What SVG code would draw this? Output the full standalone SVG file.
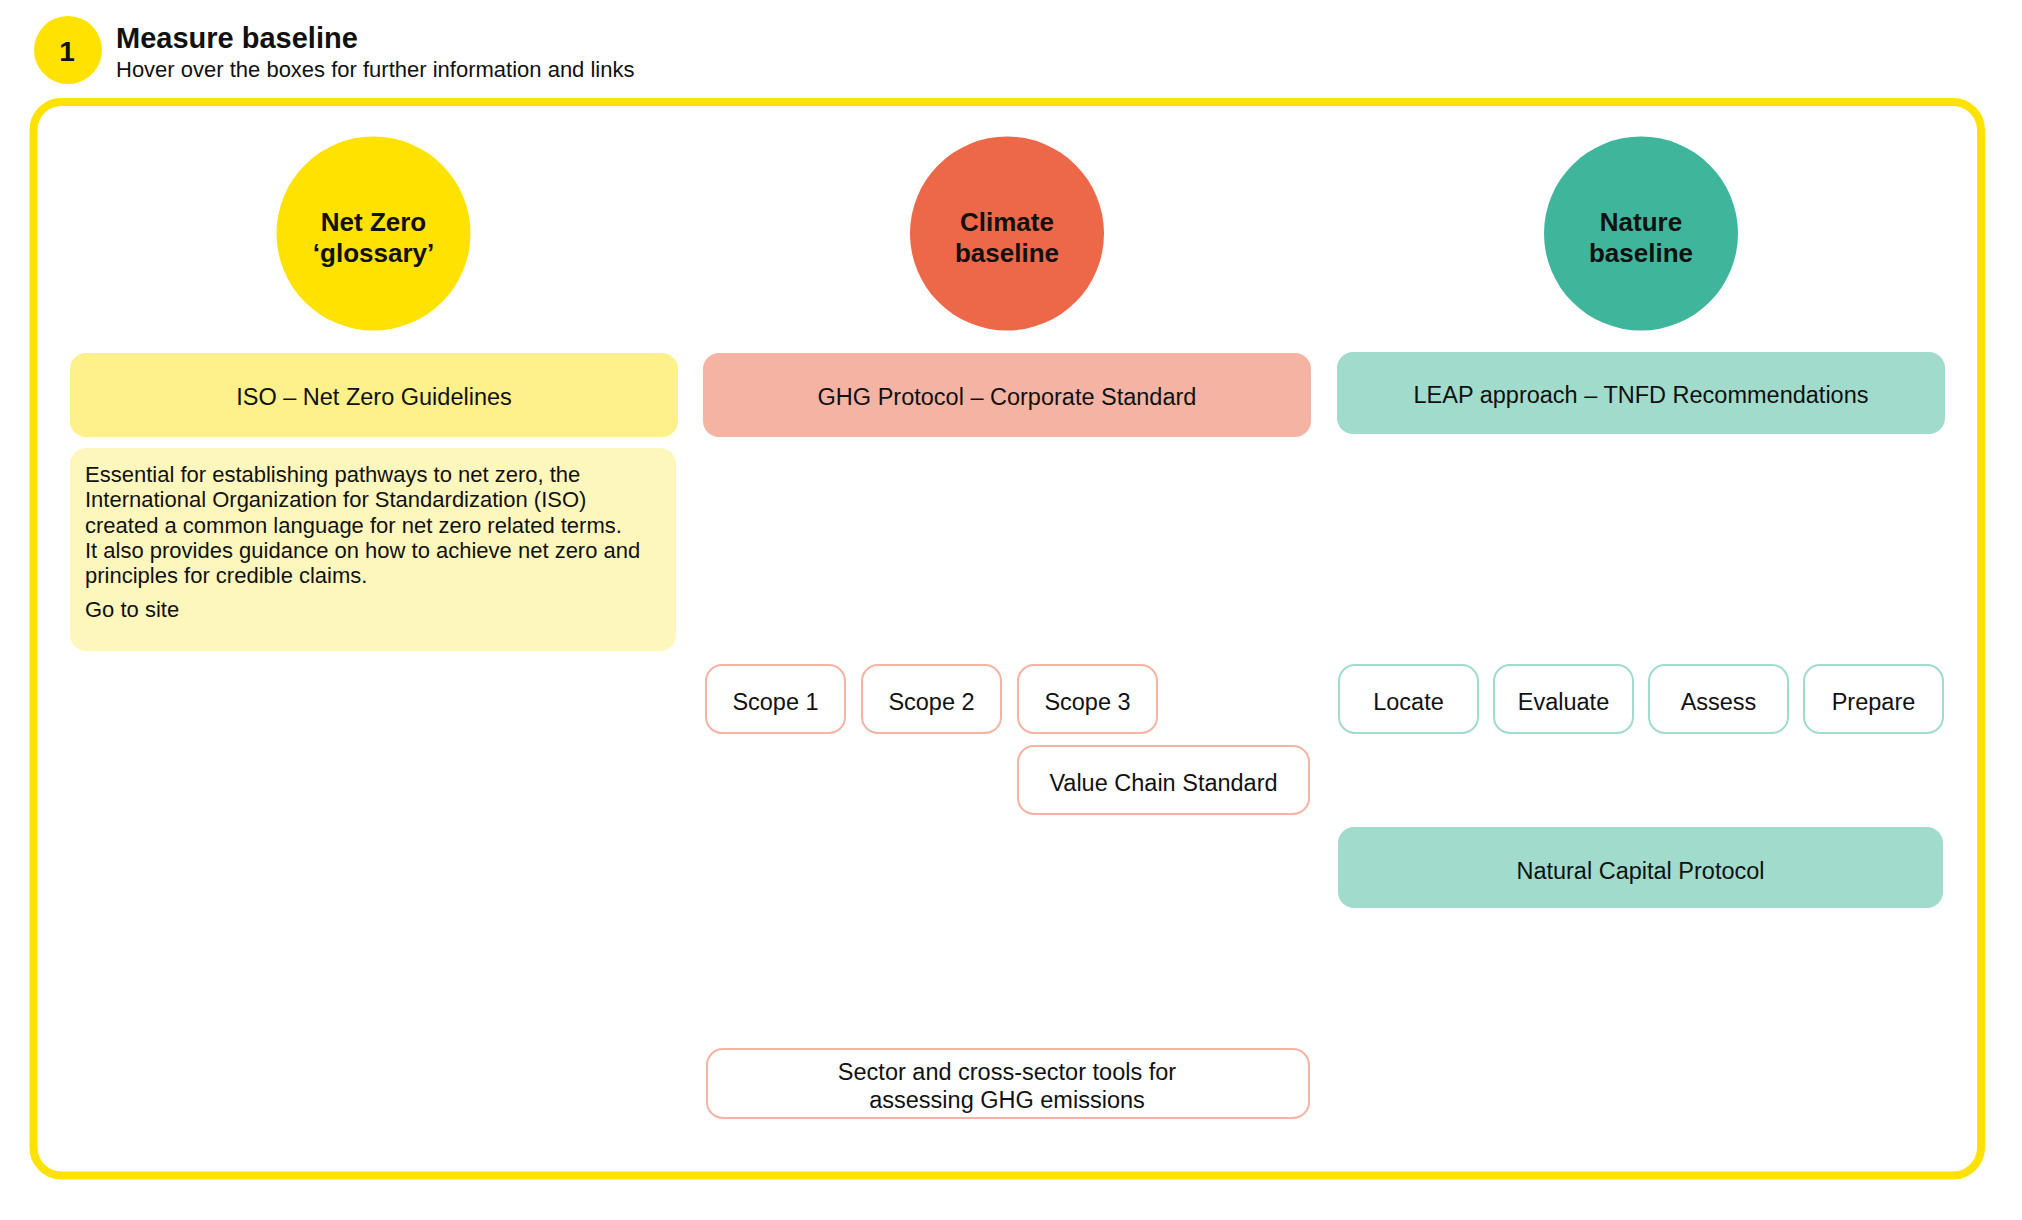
<svg xmlns="http://www.w3.org/2000/svg" width="2022" height="1220" viewBox="0 0 2022 1220">
<style>
text{font-family:"Liberation Sans",Arial,sans-serif;fill:#111111}
.title{font-size:29px;font-weight:bold}
.num{font-size:28px;font-weight:bold;text-anchor:middle}
.sub{font-size:22px}
.circ{font-size:26px;font-weight:bold;text-anchor:middle}
.lbl{font-size:23.5px;text-anchor:middle}
.desc{font-size:22px}
.pinkout{fill:#ffffff;stroke:#F5B3A3;stroke-width:2}
.tealout{fill:#ffffff;stroke:#A0DBCC;stroke-width:2}
</style>
<rect x="0" y="0" width="2022" height="1220" fill="#ffffff"/>
<g id="header">
<circle cx="68" cy="50" r="34" fill="#FFE200"/>
<text x="67" y="61" class="num">1</text>
<text x="116" y="48" class="title">Measure baseline</text>
<text x="116" y="77" class="sub">Hover over the boxes for further information and links</text>
</g>
<g id="frame">
<rect x="33.5" y="102" width="1947.5" height="1073.5" rx="28" fill="#ffffff" stroke="#FFE200" stroke-width="8"/>
</g>
<g id="connectors"></g>
<g id="net-zero-glossary">
<circle cx="373.5" cy="233.5" r="97" fill="#FFE200"/>
<text x="373.5" y="231" class="circ">Net Zero</text>
<text x="373.5" y="262" class="circ">‘glossary’</text>
</g>
<g id="climate-baseline">
<circle cx="1007" cy="233.5" r="97" fill="#EC6849"/>
<text x="1007" y="231" class="circ">Climate</text>
<text x="1007" y="262" class="circ">baseline</text>
</g>
<g id="nature-baseline">
<circle cx="1641" cy="233.5" r="97" fill="#3FB59B"/>
<text x="1641" y="231" class="circ">Nature</text>
<text x="1641" y="262" class="circ">baseline</text>
</g>
<g id="iso-guidelines">
<rect x="70" y="353" width="608" height="84" rx="16" fill="#FEF08A"/>
<text x="374" y="405" class="lbl">ISO – Net Zero Guidelines</text>
</g>
<g id="iso-description">
<rect x="70" y="448" width="606" height="203" rx="16" fill="#FEF7BD"/>
<text class="desc"><tspan x="85" y="482">Essential for establishing pathways to net zero, the</tspan><tspan x="85" y="507">International Organization for Standardization (ISO)</tspan><tspan x="85" y="533">created a common language for net zero related terms.</tspan><tspan x="85" y="558">It also provides guidance on how to achieve net zero and</tspan><tspan x="85" y="583">principles for credible claims.</tspan><tspan x="85" y="617">Go to site</tspan></text>
</g>
<g id="ghg-corporate">
<rect x="703" y="353" width="608" height="84" rx="16" fill="#F5B3A3"/>
<text x="1007" y="405" class="lbl">GHG Protocol – Corporate Standard</text>
</g>
<g id="leap-tnfd">
<rect x="1337" y="352" width="608" height="82" rx="16" fill="#A0DBCC"/>
<text x="1641" y="403" class="lbl">LEAP approach – TNFD Recommendations</text>
</g>
<g id="scope-1">
<rect x="706" y="665" width="139" height="68" rx="16" class="pinkout"/>
<text x="775.5" y="710" class="lbl">Scope 1</text>
</g>
<g id="scope-2">
<rect x="862" y="665" width="139" height="68" rx="16" class="pinkout"/>
<text x="931.5" y="710" class="lbl">Scope 2</text>
</g>
<g id="scope-3">
<rect x="1018" y="665" width="139" height="68" rx="16" class="pinkout"/>
<text x="1087.5" y="710" class="lbl">Scope 3</text>
</g>
<g id="value-chain-standard">
<rect x="1018" y="746" width="291" height="68" rx="16" class="pinkout"/>
<text x="1163.5" y="791" class="lbl">Value Chain Standard</text>
</g>
<g id="sector-tools">
<rect x="707" y="1049" width="602" height="69" rx="16" class="pinkout"/>
<text x="1007" y="1080" class="lbl">Sector and cross-sector tools for</text>
<text x="1007" y="1108" class="lbl">assessing GHG emissions</text>
</g>
<g id="locate">
<rect x="1339" y="665" width="139" height="68" rx="16" class="tealout"/>
<text x="1408.5" y="710" class="lbl">Locate</text>
</g>
<g id="evaluate">
<rect x="1494" y="665" width="139" height="68" rx="16" class="tealout"/>
<text x="1563.5" y="710" class="lbl">Evaluate</text>
</g>
<g id="assess">
<rect x="1649" y="665" width="139" height="68" rx="16" class="tealout"/>
<text x="1718.5" y="710" class="lbl">Assess</text>
</g>
<g id="prepare">
<rect x="1804" y="665" width="139" height="68" rx="16" class="tealout"/>
<text x="1873.5" y="710" class="lbl">Prepare</text>
</g>
<g id="natural-capital-protocol">
<rect x="1338" y="827" width="605" height="81" rx="16" fill="#A0DBCC"/>
<text x="1640.5" y="879" class="lbl">Natural Capital Protocol</text>
</g>
</svg>
